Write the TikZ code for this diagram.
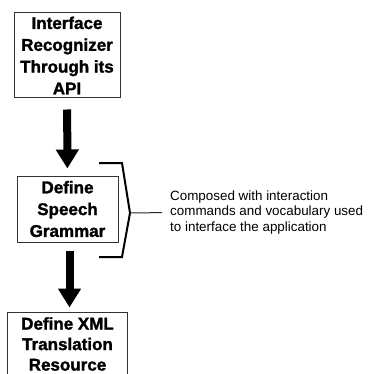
\documentclass[tikz,border=0pt]{standalone}
\usepackage{fontspec}
\usetikzlibrary{arrows.meta}
\newfontfamily\boxfont[FakeBold=1.5]{Liberation Sans Bold}
\newfontfamily\notefont{Liberation Sans}
\tikzset{
  stepbox/.style={draw=black!80, line width=1pt, fill=white, inner sep=0pt,
    align=center, font=\boxfont\fontsize{17}{21.8}\selectfont},
  flowarrow/.style={line width=8pt, -{Triangle[width=22pt,length=19pt]}},
  brace/.style={line width=2pt, line join=miter},
  leader/.style={line width=1pt, black!85},
  notetext/.style={inner sep=0pt, anchor=west, align=left,
    font=\notefont\fontsize{13.4}{15.5}\selectfont}
}
\begin{document}
\begin{tikzpicture}[x=1pt,y=-1pt]
\useasboundingbox (0,0) rectangle (371,374);
\clip (0,0) rectangle (371,374);

% process steps
\node[stepbox, minimum width=106pt, minimum height=85pt] (api) at (67,55.5)
  {Interface\\Recognizer\\Through its\\API};
\node[stepbox, minimum width=101pt, minimum height=66pt] (grammar) at (67.5,209)
  {Define\\Speech\\Grammar};
% last step: its frame runs on past the lower edge
\node[stepbox, draw=none, fill=none, minimum width=119pt, minimum height=62pt,
  font=\boxfont\fontsize{17}{20.5}\selectfont] (xml) at (67.5,344)
  {Define XML\\Translation\\Resource};
\draw[draw=black!80, line width=1pt]
  ([yshift=-10pt]xml.south west) |- (xml.north east) -- ([yshift=-10pt]xml.south east);

% flow between steps
\draw[flowarrow, shorten <=11pt, shorten >=7pt] (api) -- (grammar);
\draw[flowarrow, shorten <=8pt, shorten >=5pt]
  ([xshift=2pt]grammar.south) -- ([xshift=2pt]xml.north);

% bracket around the grammar step with its note
\coordinate (brtop) at (99,163);
\coordinate (brtip) at (130,213);
\coordinate (brbot) at (99,257);
\draw[brace] (brtop) -- (122,163) -- (brtip) -- (122,257) -- (brbot);
\node[notetext] (note) at (170,212.5)
  {Composed with interaction\\commands and vocabulary used\\to interface the application};
\draw[leader, shorten >=8pt] (brtip) -- (note.west);
\end{tikzpicture}
\end{document}
